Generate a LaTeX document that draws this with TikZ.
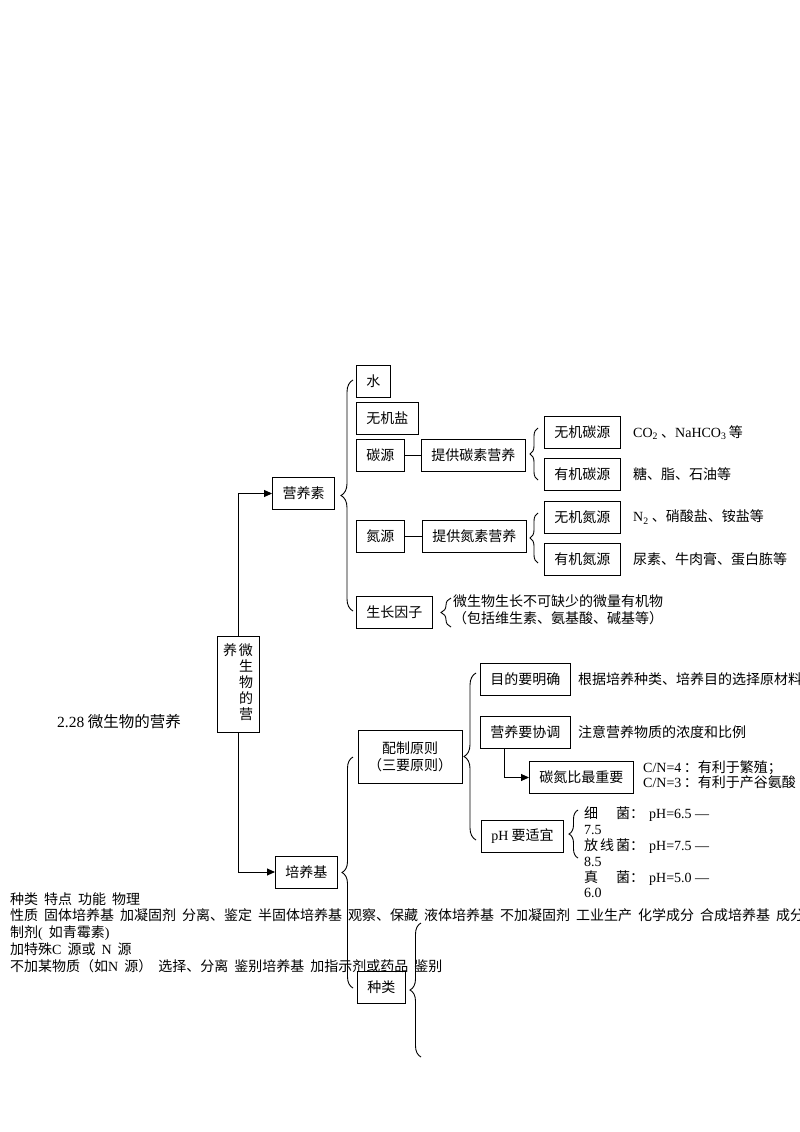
\documentclass[tikz,border=0pt]{standalone}
\usepackage{fontspec}
\setmainfont{Noto Sans CJK SC}
\newfontfamily\lat{Liberation Serif}
\usetikzlibrary{arrows.meta,decorations.pathreplacing}
\newcommand\bodyfont{\fontsize{14pt}{17pt}\selectfont}

\begin{document}
\begin{tikzpicture}[x=1pt,y=-1pt,
    box/.style={draw,line width=0.9pt,minimum height=32pt,inner xsep=10pt,inner ysep=2pt,font=\bodyfont},
    txt/.style={inner sep=0pt,anchor=west,font=\bodyfont},
    link/.style={line width=0.9pt},
    arr/.style={line width=0.9pt,-{Triangle[length=8pt,width=7pt]}},
    curly/.style={decorate,decoration={brace,amplitude=#1},line width=0.9pt},
    curly/.default=10pt]
    \useasboundingbox (0,0) rectangle (800,1132);

    % --- 标题与中心框
    \node[txt,font={\fontsize{15.5pt}{18pt}\selectfont}] (biaoti) at (57,722) {{\lat 2.28} 微生物的营养};
    \node[box,minimum width=42pt,minimum height=96pt,inner xsep=0pt] (zhu) at (238,684)
      {\fontsize{14pt}{14pt}\selectfont
       \begin{tabular}[t]{@{}l@{\hspace{2pt}}l@{}}养&微\\&生\\&物\\&的\\&营\end{tabular}};

    % --- 营养素 (上)
    \node[box] (yingyangsu) at (303.5,493.5) {营养素};
    \draw[arr] (zhu.north) |- (yingyangsu.west);
    \draw[curly=12pt] (353,611) -- (353,380);

    \node[box,anchor=west] (shui) at (356,381.5) {水};
    \node[box,anchor=west] (wujiyan) at (356,418) {无机盐};
    \node[box,anchor=west] (tanyuan) at (356,455) {碳源};
    \node[box,anchor=west] (tigongtan) at (421,455) {提供碳素营养};
    \node[box,anchor=west] (danyuan) at (356,536.5) {氮源};
    \node[box,anchor=west] (tigongdan) at (422,536.5) {提供氮素营养};
    \node[box,anchor=west] (yinzi) at (356,612) {生长因子};
    \draw[link] (tanyuan) -- (tigongtan);
    \draw[link] (danyuan) -- (tigongdan);

    % 碳源 / 氮源
    \draw[curly=8pt] (538,480) -- (538,428);
    \node[box,anchor=west] (wujitan) at (544,432.5) {无机碳源};
    \node[box,anchor=west] (youjitan) at (544,474.5) {有机碳源};
    \node[txt] (co2) at (633,432.5) {{\lat CO\textsubscript{2}} 、{\lat NaHCO\textsubscript{3}}\,等};
    \node[txt] (tang) at (633,474.5) {糖、脂、石油等};

    \draw[curly=8pt] (538,563) -- (538,513);
    \node[box,anchor=west] (wujidan) at (544,517) {无机氮源};
    \node[box,anchor=west] (youjidan) at (544,559) {有机氮源};
    \node[txt] (n2) at (633,517) {{\lat N\textsubscript{2}} 、硝酸盐、铵盐等};
    \node[txt] (niaosu) at (633,559) {尿素、牛肉膏、蛋白胨等};

    \draw[curly=10pt] (451,627) -- (451,598);
    \node[txt,align=center] (yinzi-t) at (453,610) {微生物生长不可缺少的微量有机物\\（包括维生素、氨基酸、碱基等）};

    % --- 培养基 (下)
    \node[box,anchor=west] (peiyangji) at (275,872) {培养基};
    \draw[arr] (zhu.south) |- (peiyangji.west);
    \draw[curly=11pt] (353,988) -- (353,757);

    \node[box,align=center,minimum height=53pt] (peizhi) at (410,756.5) {配制原则\\（三要原则）};
    \draw[curly=12pt] (476,840) -- (476,673);

    \node[box,anchor=west] (mudi) at (480,679) {目的要明确};
    \node[txt] (mudi-t) at (578,679) {根据培养种类、培养目的选择原材料};
    \node[box,anchor=west] (xietiao) at (480,732.5) {营养要协调};
    \node[txt] (xietiao-t) at (578,732.5) {注意营养物质的浓度和比例};
    \node[box,anchor=west] (tandan) at (529,777.5) {碳氮比最重要};
    \draw[arr] ([xshift=24pt]xietiao.south west) |- (tandan.west);
    \node[txt,align=left,font={\fontsize{14pt}{15pt}\selectfont}] (tandan-t) at (643,775)
      {{\lat C/N=4}\,：有利于繁殖；\\{\lat C/N=3}\,：有利于产谷氨酸};

    \node[box,anchor=west] (ph) at (481,836) {{\lat pH} 要适宜};
    \draw[curly=9pt] (578,858) -- (578,810);
    \node[txt,align=left,font={\fontsize{14pt}{15.8pt}\selectfont}] (ph-t) at (584,852.5)
      {细\hspace{18pt}菌：\hspace{5pt}{\lat pH=6.5 —}\\{\lat 7.5}\\
       放\hspace{2pt}线\hspace{2pt}菌：\hspace{5pt}{\lat pH=7.5 —}\\{\lat 8.5}\\
       真\hspace{18pt}菌：\hspace{5pt}{\lat pH=5.0 —}\\{\lat 6.0}};

    \node[box,anchor=west] (zhonglei) at (357,987.5) {种类};
    \draw[curly=11pt] (421,1057) -- (421,923);

    % 散落的文字
    \node[txt,anchor=north west,align=left,font={\fontsize{14pt}{16.8pt}\selectfont\spaceskip=6pt\relax}] (leibie) at (10,892)
      {种类 特点 功能 物理\\
       性质 固体培养基 加凝固剂 分离、鉴定 半固体培养基 观察、保藏 液体培养基 不加凝固剂 工业生产 化学成分 合成培养基 成分\\
       制剂{\lat (} 如青霉素{\lat )}\\
       加特殊{\lat C} 源或 {\lat N} 源\\
       不加某物质（如{\lat N} 源） 选择、分离 鉴别培养基 加指示剂或药品 鉴别};
  \end{tikzpicture}
\end{document}
